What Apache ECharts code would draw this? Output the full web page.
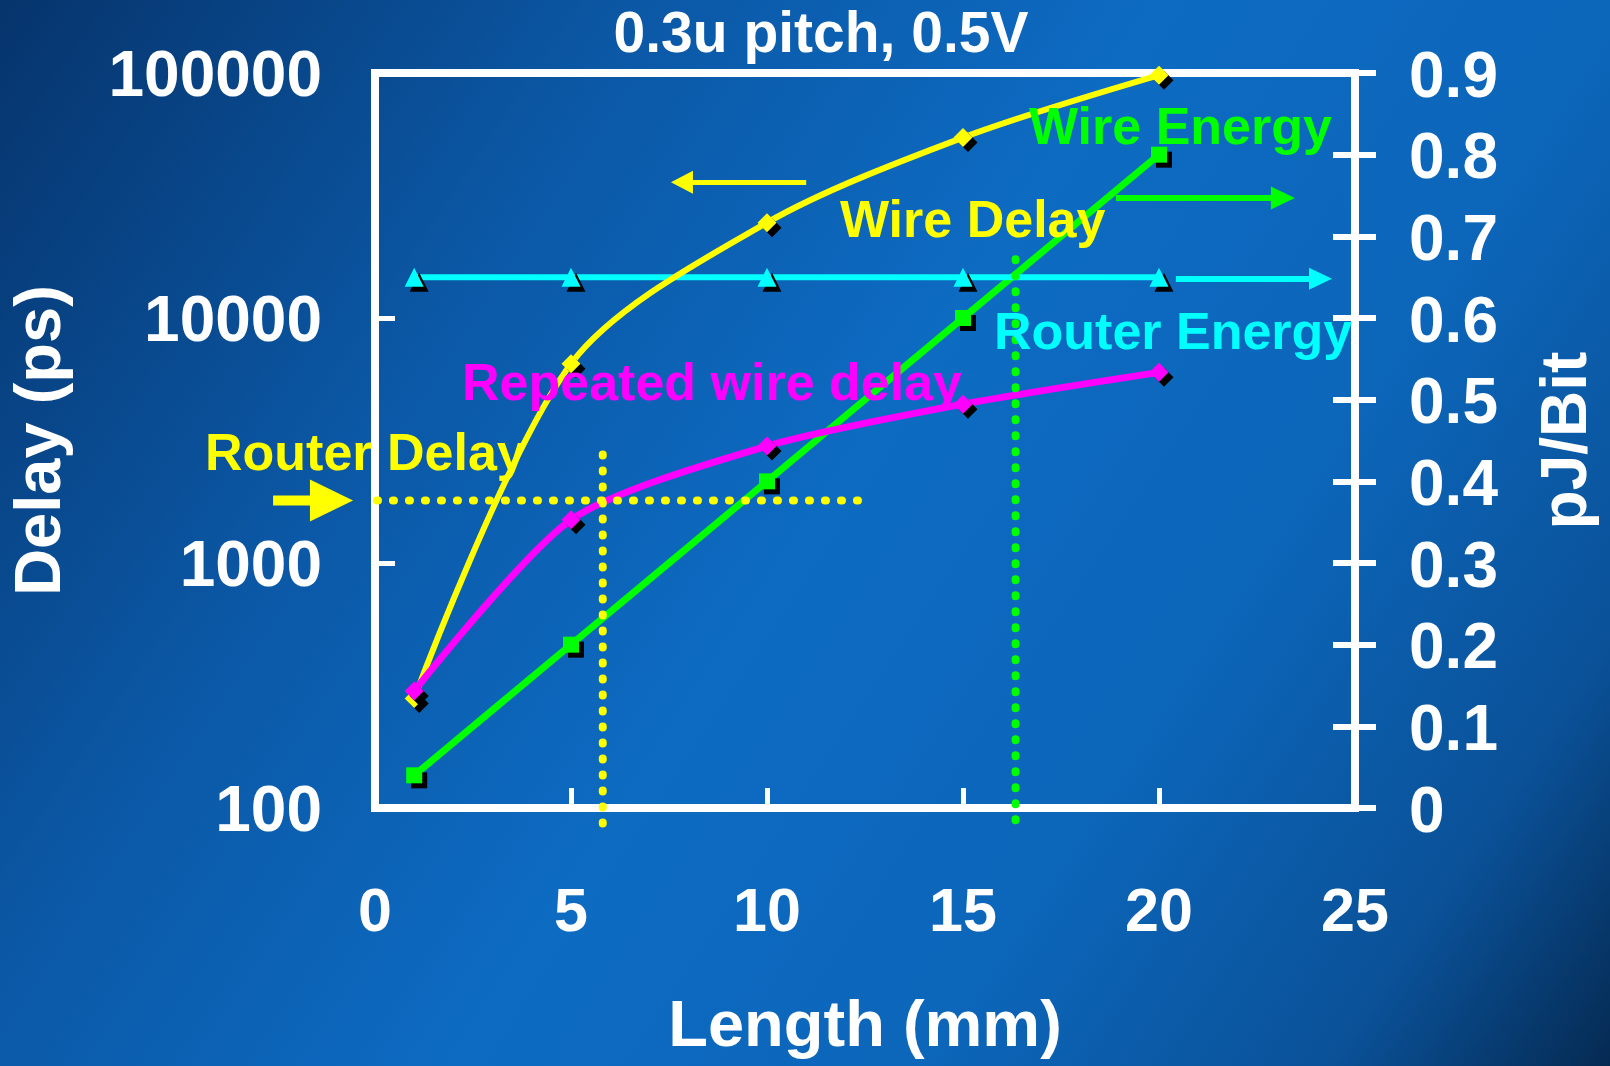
<!DOCTYPE html>
<html>
<head>
<meta charset="utf-8">
<script src="https://cdn.jsdelivr.net/npm/echarts@6/dist/echarts.min.js"></script>
<style>
html,body{margin:0;padding:0;width:1610px;height:1066px;overflow:hidden;}
#c{width:1610px;height:1066px;}
</style>
</head>
<body>
<div id="c"></div>
<script>
// ---- data ----
const lengthMm = [1, 5, 10, 15, 20];
const wireDelay = [280, 6500, 24500, 54500, 98000];        // ps (left, log)
const repeatedWireDelay = [300, 1500, 3000, 4450, 6000];   // ps (left, log)
const wireEnergy = [0.04, 0.20, 0.40, 0.60, 0.80];         // pJ/Bit (right)
const routerEnergy = [0.65, 0.65, 0.65, 0.65, 0.65];       // pJ/Bit (right)
const routerDelay = 1800;                                   // ps
const delayCrossX = 5.81;    // router delay == repeated wire delay
const energyCrossX = 16.34;  // wire energy == router energy
const xTicks = [0, 5, 10, 15, 20, 25];
const delayTicks = [100, 1000, 10000, 100000];
const energyTicks = [0, 0.1, 0.2, 0.3, 0.4, 0.5, 0.6, 0.7, 0.8, 0.9];

const FONT = '"Liberation Sans", Arial, sans-serif';
const YEL = '#ffff00', MAG = '#ff00ff', GRN = '#00ff00', CYN = '#00ffff';

const shadow = {shadowColor: '#000', shadowOffsetX: 5, shadowOffsetY: 5, shadowBlur: 0};
const dotted = (color) => ({color, width: 8, type: [1, 15], cap: 'round'});

const chart = echarts.init(document.getElementById('c'), null, {renderer: 'canvas'});

const option = {
  animation: false,
  backgroundColor: new echarts.graphic.LinearGradient(0, 0, 1, 1, [
    {offset: 0, color: '#06346c'},
    {offset: 0.28, color: '#0b58a6'},
    {offset: 0.5, color: '#0d6bc2'},
    {offset: 0.7, color: '#0c66ba'},
    {offset: 0.88, color: '#0a5198'},
    {offset: 1, color: '#052a52'}
  ]),
  grid: {left: 375, right: 255, top: 73, bottom: 257, show: true, borderColor: '#fff', borderWidth: 8, backgroundColor: 'transparent'},
  xAxis: {
    type: 'value', min: xTicks[0], max: xTicks[xTicks.length - 1], interval: 5,
    axisLine: {lineStyle: {color: '#fff', width: 8}},
    axisTick: {inside: true, length: 20, lineStyle: {color: '#fff', width: 5}},
    axisLabel: {color: '#fff', fontSize: 61, fontWeight: 'bold', fontFamily: FONT, margin: 76},
    splitLine: {show: false},
    name: 'Length (mm)', nameLocation: 'middle', nameGap: 188,
    nameTextStyle: {color: '#fff', fontSize: 65, fontWeight: 'bold', fontFamily: FONT}
  },
  yAxis: [
    {
      type: 'log', logBase: 10, min: delayTicks[0], max: delayTicks[delayTicks.length - 1], position: 'left',
      axisLine: {lineStyle: {color: '#fff', width: 8}},
      axisTick: {inside: true, length: 20, lineStyle: {color: '#fff', width: 5}},
      minorTick: {show: false},
      axisLabel: {color: '#fff', fontSize: 64, fontWeight: 'bold', fontFamily: FONT, margin: 53,
                  verticalAlign: 'top', lineHeight: 10, formatter: v => String(Math.round(v))},
      splitLine: {show: false},
      name: 'Delay (ps)', nameLocation: 'middle', nameGap: 300, nameRotate: 90,
      nameTextStyle: {color: '#fff', fontSize: 65, fontWeight: 'bold', fontFamily: FONT}
    },
    {
      type: 'value', min: 0, max: 0.9, interval: 0.1, position: 'right',
      axisLine: {show: true, lineStyle: {color: '#fff', width: 8}},
      axisTick: {inside: false, length: 21, lineStyle: {color: '#fff', width: 6}},
      axisLabel: {color: '#fff', fontSize: 64, fontWeight: 'bold', fontFamily: FONT, margin: 54,
                  verticalAlign: 'top', lineHeight: 12, formatter: v => energyTicks[Math.round(v * 10)]},
      splitLine: {show: false},
      name: 'pJ/Bit', nameLocation: 'middle', nameGap: 181, nameRotate: 90,
      nameTextStyle: {color: '#fff', fontSize: 64, fontWeight: 'bold', fontFamily: FONT}
    },
    {
      type: 'value', min: 0, max: 0.9, interval: 0.1, position: 'right',
      axisLine: {show: false},
      axisTick: {show: true, inside: true, length: 22, lineStyle: {color: '#fff', width: 6}},
      axisLabel: {show: false}, splitLine: {show: false}
    }
  ],
  series: [
    {
      name: 'Wire Energy', type: 'line', yAxisIndex: 1, clip: false, z: 3,
      data: lengthMm.map((x, i) => [x, wireEnergy[i]]),
      smooth: 0.15, symbol: 'rect', symbolSize: 16,
      lineStyle: {color: GRN, width: 7}, itemStyle: Object.assign({color: GRN}, shadow),
      markLine: {
        silent: true, symbol: ['none', 'triangle'], symbolSize: [23, 24],
        lineStyle: {color: GRN, width: 6, type: 'solid'}, label: {show: false},
        data: [[{coord: [18.9, 0.747]}, {coord: [23.16, 0.747]}]]
      }
    },
    {
      name: 'Router Energy', type: 'line', yAxisIndex: 1, clip: false, z: 3,
      data: lengthMm.map((x, i) => [x, routerEnergy[i]]),
      symbol: 'triangle', symbolSize: 19,
      lineStyle: {color: CYN, width: 6}, itemStyle: Object.assign({color: CYN}, shadow),
      markLine: {
        silent: true, symbol: ['none', 'triangle'], symbolSize: [22, 23],
        lineStyle: {color: CYN, width: 6, type: 'solid'}, label: {show: false},
        data: [[{coord: [20.43, 0.648]}, {coord: [24.12, 0.648]}]]
      }
    },
    {
      name: 'Wire Delay', type: 'line', yAxisIndex: 0, clip: false, z: 3,
      data: lengthMm.map((x, i) => [x, wireDelay[i]]),
      smooth: 0.3, symbol: 'diamond', symbolSize: 19,
      lineStyle: {color: YEL, width: 6}, itemStyle: Object.assign({color: YEL}, shadow),
      markLine: {
        silent: true, symbol: ['none', 'triangle'], symbolSize: [23, 22],
        lineStyle: {color: YEL, width: 5, type: 'solid'}, label: {show: false},
        data: [[{coord: [11.0, 35800]}, {coord: [7.83, 35800]}]]
      }
    },
    {
      name: 'Repeated wire delay', type: 'line', yAxisIndex: 0, clip: false, z: 4,
      data: lengthMm.map((x, i) => [x, repeatedWireDelay[i]]),
      smooth: 0.25, symbol: 'diamond', symbolSize: 19,
      lineStyle: {color: MAG, width: 7}, itemStyle: Object.assign({color: MAG}, shadow)
    },
    {
      name: 'Router Delay', type: 'line', yAxisIndex: 0, clip: false, z: 5,
      data: [[0.05, routerDelay], [12.55, routerDelay]],
      symbol: 'none', lineStyle: dotted(YEL)
    },
    {
      name: 'Router Delay pointer', type: 'custom', yAxisIndex: 0, clip: false, z: 5,
      // [shaft start x, head start x, tip x, y]
      data: [[-2.6, -1.66, -0.56, routerDelay]],
      encode: {x: [0, 1, 2], y: 3},
      renderItem: (params, api) => {
        const a = api.coord([api.value(0), api.value(3)]);
        const b = api.coord([api.value(1), api.value(3)]);
        const t = api.coord([api.value(2), api.value(3)]);
        return {
          type: 'group',
          children: [
            {type: 'rect', shape: {x: a[0], y: a[1] - 5, width: b[0] - a[0] + 1, height: 10}, style: {fill: YEL}},
            {type: 'polygon', shape: {points: [[b[0], b[1] - 21], [t[0], t[1]], [b[0], b[1] + 21]]}, style: {fill: YEL}}
          ]
        };
      }
    },
    {
      name: 'Delay crossover', type: 'line', yAxisIndex: 0, clip: false, z: 5,
      data: [[delayCrossX, 2770], [delayCrossX, 82]],
      symbol: 'none', lineStyle: dotted(YEL)
    },
    {
      name: 'Energy crossover', type: 'line', yAxisIndex: 1, clip: false, z: 5,
      data: [[energyCrossX, 0.672], [energyCrossX, -0.021]],
      symbol: 'none', lineStyle: dotted(GRN)
    }
  ],
  graphic: [
    {type: 'text', x: 821, y: 36, z: 10, style: {text: '0.3u pitch, 0.5V', fill: '#fff', font: 'bold 57px ' + FONT, textAlign: 'center', textVerticalAlign: 'middle'}},
    {type: 'text', x: 1029, y: 130, z: 10, style: {text: 'Wire Energy', fill: GRN, font: 'bold 52px ' + FONT, textAlign: 'left', textVerticalAlign: 'middle'}},
    {type: 'text', x: 840, y: 223, z: 10, style: {text: 'Wire Delay', fill: YEL, font: 'bold 52px ' + FONT, textAlign: 'left', textVerticalAlign: 'middle'}},
    {type: 'text', x: 994, y: 335, z: 10, style: {text: 'Router Energy', fill: CYN, font: 'bold 52px ' + FONT, textAlign: 'left', textVerticalAlign: 'middle'}},
    {type: 'text', x: 462, y: 386, z: 10, style: {text: 'Repeated wire delay', fill: MAG, font: 'bold 52px ' + FONT, textAlign: 'left', textVerticalAlign: 'middle'}},
    {type: 'text', x: 205, y: 456, z: 10, style: {text: 'Router Delay', fill: YEL, font: 'bold 52px ' + FONT, textAlign: 'left', textVerticalAlign: 'middle'}}
  ]
};
chart.setOption(option);
</script>
</body>
</html>
